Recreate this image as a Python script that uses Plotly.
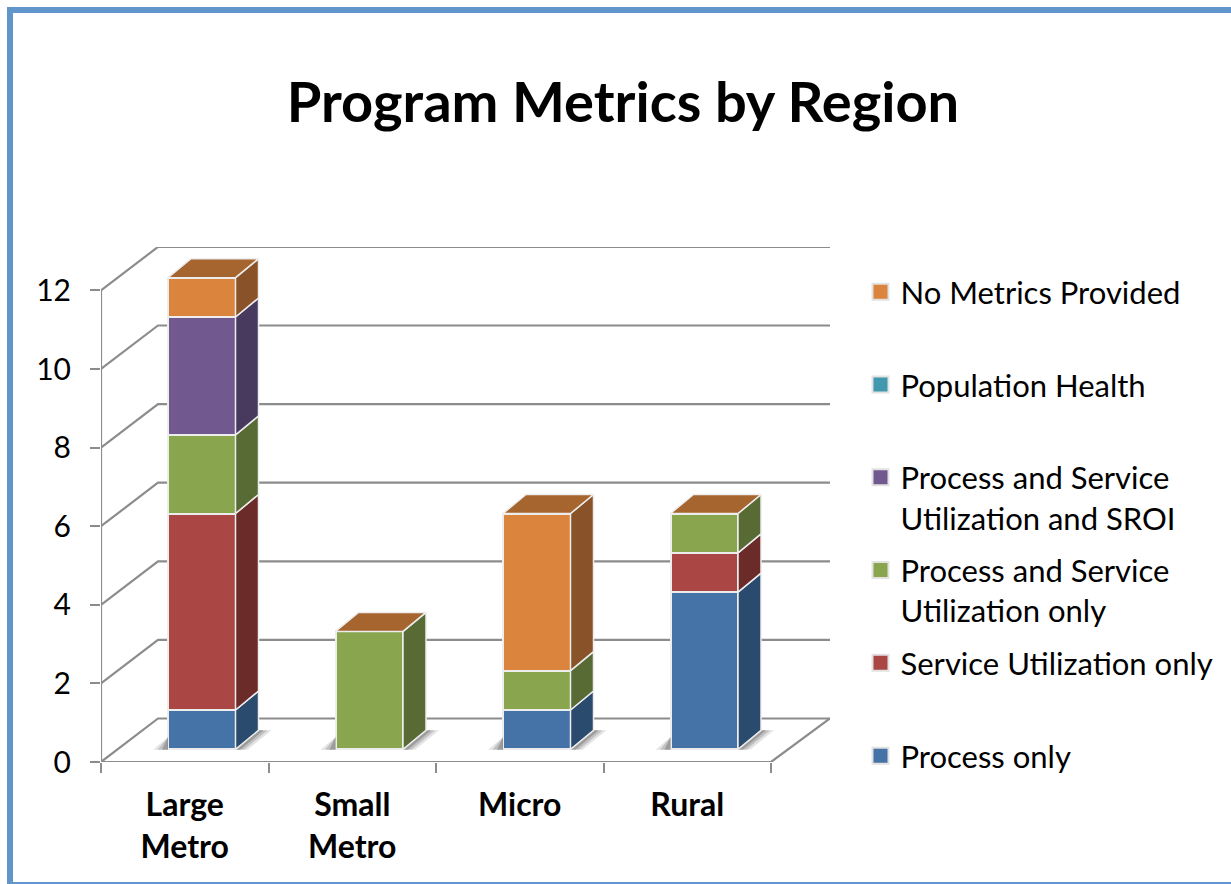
import plotly.graph_objects as go

# --- data ---
CATEGORIES = ["Large<br>Metro", "Small<br>Metro", "Micro", "Rural"]
SERIES_NAMES = ["Process only", "Service Utilization only",
                "Process and Service<br>Utilization only",
                "Process and Service<br>Utilization and SROI",
                "Population Health", "No Metrics Provided"]
PROCESS_ONLY = [1, 0, 1, 4]
SERVICE_ONLY = [5, 0, 0, 1]
PROCESS_SERVICE = [2, 3, 1, 1]
PROCESS_SERVICE_SROI = [3, 0, 0, 0]
POPULATION_HEALTH = [0, 0, 0, 0]
NO_METRICS = [1, 0, 4, 0]
SERIES_VALUES = [PROCESS_ONLY, SERVICE_ONLY, PROCESS_SERVICE,
                 PROCESS_SERVICE_SROI, POPULATION_HEALTH, NO_METRICS]
Y_TICKS = [0, 2, 4, 6, 8, 10, 12]

FRONT = ["#4572A7", "#AA4643", "#89A54E", "#71588F", "#4198AF", "#DB843D"]
SIDE = ["#2A4A6E", "#6B2B29", "#586B34", "#483A5E", "#2A6374", "#8A5228"]
TOP_COLOR = "#A6652F"
GREY = "#8C8C8C"
EDGE = "#EDEDED"
FONT = "Lato, Carlito, sans-serif"

# --- layout constants (page pixels) ---
W, H = 1231, 884
L, R, T, B = 101, 830, 247, 762
CAT_PX, UNIT_PX = 167.5, 39.3
X0 = -0.5
X1 = X0 + (R - L) / CAT_PX
Y1 = (B - T) / UNIT_PX
BAR_SHIFT_X = 17 / CAT_PX          # bars sit right of the tick-label centres
BAR_SHIFT_Y = 12.7 / UNIT_PX       # and above the front floor edge
WALL_DX, WALL_DY = 57 / CAT_PX, 43.5 / UNIT_PX
BAR_W = 67.5 / CAT_PX
SIDE_DX, SIDE_DY = 23 / CAT_PX, 19 / UNIT_PX

fig = go.Figure()

# legend swatches come first so that the legend lists the series top of stack first
for name, front in reversed(list(zip(SERIES_NAMES, FRONT))):
    label = name if "<br>" in name else name + "<br> "
    fig.add_trace(go.Scatter(x=[None], y=[None], mode="markers", name=label, legendgroup=name,
                             marker=dict(symbol="square", size=16, color=front,
                                         line=dict(color="#E2E2E2", width=2)),
                             xaxis="x2", yaxis="y2"))

# wall and floor lines
gx, gy = [], []
for v in Y_TICKS:
    gx += [X0, X0 + WALL_DX, X1, None]
    gy += [v, v + WALL_DY, v + WALL_DY, None]
gx += [X0, X0, None, X0, X0 + 4, X1, None]
gy += [0, 12, None, 0, 0, WALL_DY, None]
fig.add_trace(go.Scatter(x=gx, y=gy, mode="lines", line=dict(color=GREY, width=2.2),
                         hoverinfo="skip", showlegend=False, xaxis="x", yaxis="y"))

# bar shadows on the floor
idx = list(range(len(CATEGORIES)))
hw = BAR_W / 2
for alpha, grow in ((0.14, 1.0), (0.2, 0.7), (0.28, 0.4)):
    sx, sy = [], []
    for i in idx:
        sx += [i - hw - 15 / CAT_PX * grow, i - hw, i - hw, None,
               i + hw, i + hw + SIDE_DX, i + hw + SIDE_DX + 13 / CAT_PX * grow,
               i + hw + 12 / CAT_PX * grow, None]
        sy += [-0.01, 12 / UNIT_PX, -0.01, None,
               -0.01, SIDE_DY, SIDE_DY, -0.01, None]
    fig.add_trace(go.Scatter(x=sx, y=sy, mode="none", fill="toself",
                             fillcolor=f"rgba(60,60,60,{alpha})",
                             hoverinfo="skip", showlegend=False, xaxis="x2", yaxis="y2"))

# stacked bars and their side faces
base = [0] * len(idx)
for name, vals, front, side in zip(SERIES_NAMES, SERIES_VALUES, FRONT, SIDE):
    fig.add_trace(go.Bar(x=idx, y=vals, width=BAR_W, name=name.replace("<br>", " "),
                         legendgroup=name,
                         marker=dict(color=front, line=dict(color=EDGE, width=2)),
                         showlegend=False, xaxis="x2", yaxis="y2"))
    px, py = [], []
    for i, v in zip(idx, vals):
        if v:
            r = i + hw
            px += [r, r + SIDE_DX, r + SIDE_DX, r, r, None]
            py += [base[i], base[i] + SIDE_DY, base[i] + v + SIDE_DY, base[i] + v, base[i], None]
    fig.add_trace(go.Scatter(x=px or [None], y=py or [None], mode="lines", fill="toself",
                             fillcolor=side, line=dict(color=EDGE, width=1.5),
                             hoverinfo="skip", showlegend=False, legendgroup=name,
                             xaxis="x2", yaxis="y2"))
    base = [b + v for b, v in zip(base, vals)]

# top faces
tx, ty = [], []
for i, b in zip(idx, base):
    l, r = i - hw, i + hw
    tx += [l, r, r + SIDE_DX, l + SIDE_DX, l, None]
    ty += [b, b, b + SIDE_DY, b + SIDE_DY, b, None]
fig.add_trace(go.Scatter(x=tx, y=ty, mode="lines", fill="toself", fillcolor=TOP_COLOR,
                         line=dict(color=EDGE, width=1.5), hoverinfo="skip",
                         showlegend=False, xaxis="x2", yaxis="y2"))

hidden = dict(visible=False, fixedrange=True)
fig.update_layout(
    width=W, height=H, barmode="stack", bargap=0,
    margin=dict(l=L, r=W - R, t=T, b=H - B, autoexpand=False),
    paper_bgcolor="white", plot_bgcolor="white",
    font=dict(family=FONT, color="black"),
    title=dict(text="<b>Program Metrics by Region</b>", x=623 / W, xanchor="center",
               y=1 - 102 / H, yanchor="middle", font=dict(size=56, family=FONT, color="black")),
    xaxis=dict(range=[X0, X1], tickmode="array", tickvals=idx, ticktext=CATEGORIES,
               ticks="", showgrid=False, zeroline=False, showline=False,
               ticklabelstandoff=21,
               tickfont=dict(size=32, family=FONT, color="black", weight="bold"),
               minor=dict(tickmode="array", tickvals=[X0 + k for k in range(5)], ticks="outside",
                          ticklen=10, tickwidth=2, tickcolor=GREY, showgrid=False)),
    yaxis=dict(range=[0, Y1], tickmode="array", tickvals=Y_TICKS, ticks="outside", ticklen=10,
               tickwidth=2, tickcolor=GREY, showgrid=False, zeroline=False, showline=False,
               ticklabelstandoff=13, tickfont=dict(size=30, family=FONT, color="black")),
    xaxis2=dict(range=[X0 - BAR_SHIFT_X, X1 - BAR_SHIFT_X], overlaying="x", **hidden),
    yaxis2=dict(range=[-BAR_SHIFT_Y, Y1 - BAR_SHIFT_Y], overlaying="y", **hidden),
    legend=dict(x=(860.5 - L) / (R - L), xanchor="left", y=(B - 265) / (B - T), yanchor="top",
                traceorder="grouped", tracegroupgap=9.2, valign="top", itemwidth=30,
                itemsizing="trace", maxheight=620, font=dict(size=31, family=FONT, color="black"),
                bgcolor="rgba(0,0,0,0)"),
    shapes=[dict(type="path", xref="paper", yref="paper", layer="below",
                 path=f"M {(10 - L) / (R - L)} {(B - H) / (B - T)} L {(10 - L) / (R - L)} {(B - 10) / (B - T)} "
                      f"L {(W - L) / (R - L)} {(B - 10) / (B - T)}",
                 line=dict(color="#6096CB", width=6)),
            dict(type="line", xref="paper", yref="paper",
                 x0=(10 - L) / (R - L), x1=(W - L) / (R - L),
                 y0=(B - 883) / (B - T), y1=(B - 883) / (B - T),
                 line=dict(color="#6096CB", width=2))],
)

fig.write_html("out.html", config={"displayModeBar": False},
               post_script="document.body.style.margin='0';document.body.style.overflow='hidden';"
                           "var s=document.createElement('style');"
                           "s.textContent='text{font-variant-ligatures:none}';"
                           "document.head.appendChild(s);")
